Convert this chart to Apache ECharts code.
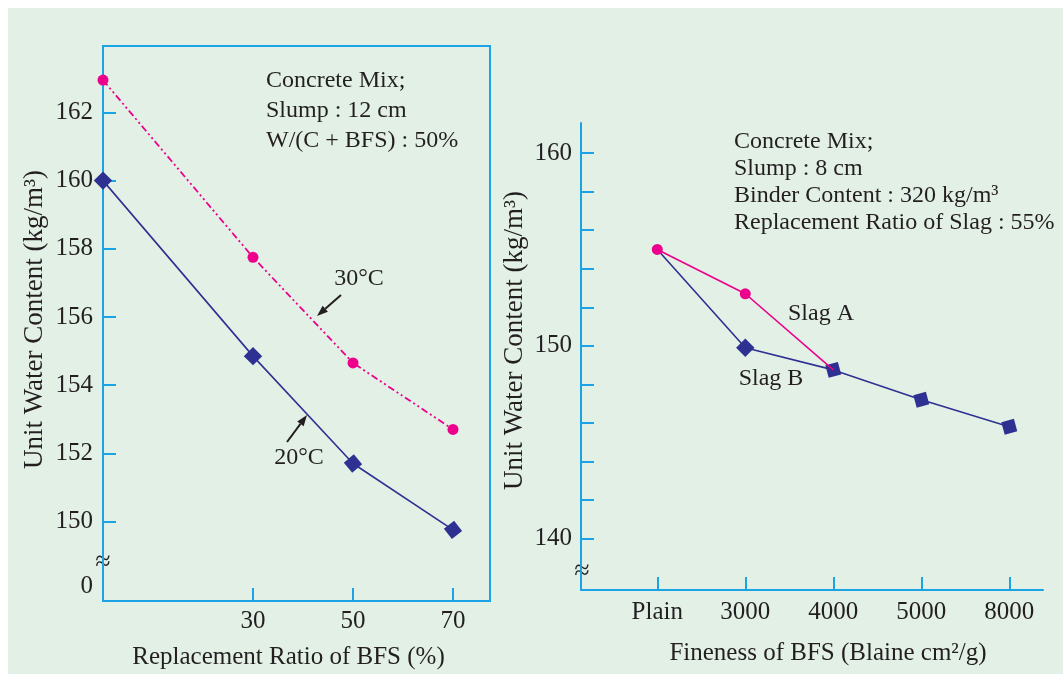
<!DOCTYPE html>
<html>
<head>
<meta charset="utf-8">
<script src="https://cdn.jsdelivr.net/npm/echarts@6/dist/echarts.min.js"></script>
<style>
html, body { margin: 0; padding: 0; background: #fff; }
#chart {
  width: 1063px; height: 675px;
  background: linear-gradient(#e3f0e6, #e3f0e6) 8px 8px / 1055px 666px no-repeat, #fff;
}
</style>
</head>
<body>
<div id="chart"></div>
<script>
// left panel: replacement ratio of BFS
const bfsRatio = [0, 30, 50, 70]
const water20 = [160.0, 154.85, 151.7, 149.75]
const water30 = [162.95, 157.75, 154.65, 152.7]
const leftXTicks = [30, 50, 70]
const leftYTicks = [150, 152, 154, 156, 158, 160, 162]
const leftZeroAt = 148.1 // where the broken axis shows "0"

// right panel: fineness of BFS
const fineness = ['Plain', '3000', '4000', '5000', '8000']
const slagA = [155.0, 152.7, 148.75]
const slagB = [155.0, 149.9, 148.75, 147.2, 145.8]
const rightYTicks = [140, 142, 144, 146, 148, 150, 152, 154, 156, 158, 160]
const rightYLabels = [140, 150, 160]

const CYAN = '#1ba3e6'
const PINK = '#ec008c'
const NAVY = '#2e3192'
const INK = '#231f20'
const FONT = 'Liberation Serif'

const chart = echarts.init(document.getElementById('chart'))

function arrow(t, h) {
  const dx = h[0] - t[0], dy = h[1] - t[1]
  const len = Math.sqrt(dx * dx + dy * dy)
  const ux = dx / len, uy = dy / len
  const bx = h[0] - ux * 11, by = h[1] - uy * 11
  const nx = -uy * 4, ny = ux * 4
  return [{
    type: 'line',
    shape: { x1: t[0], y1: t[1], x2: bx, y2: by },
    style: { stroke: INK, lineWidth: 2 }
  }, {
    type: 'polygon',
    shape: { points: [h, [bx + nx, by + ny], [bx - nx, by - ny]] },
    style: { fill: INK }
  }]
}

function label(text, x, y, extra) {
  return {
    type: 'text', x: x, y: y,
    style: Object.assign({
      text: text, fill: INK, font: '24px "' + FONT + '"',
      textAlign: 'center', textVerticalAlign: 'middle'
    }, extra || {})
  }
}

const axisText = { color: INK, fontFamily: FONT, fontSize: 25 }
const cyanLine = { onZero: false, lineStyle: { color: CYAN, width: 2 } }

chart.setOption({
  backgroundColor: 'transparent',
  animation: false,
  grid: [
    { left: 103, top: 46, width: 387, height: 556, show: true, borderColor: CYAN, borderWidth: 2, backgroundColor: 'transparent' },
    { left: 581, top: 123, width: 462, height: 467 }
  ],
  xAxis: [{
    gridIndex: 0, type: 'value', min: 0, max: 77.4,
    splitLine: { show: false },
    axisLine: cyanLine,
    axisTick: { customValues: leftXTicks, inside: true, length: 13, lineStyle: { color: CYAN, width: 2 } },
    axisLabel: Object.assign({ customValues: leftXTicks, margin: 8 }, axisText),
    name: 'Replacement Ratio of BFS (%)', nameLocation: 'middle', nameGap: 44,
    nameTextStyle: { color: INK, fontFamily: FONT, fontSize: 25, padding: [0, 16, 0, 0] }
  }, {
    gridIndex: 1, type: 'value', min: -0.867, max: 4.383,
    splitLine: { show: false },
    axisLine: cyanLine,
    axisTick: { customValues: [0, 1, 2, 3, 4], inside: true, length: 13, lineStyle: { color: CYAN, width: 2 } },
    axisLabel: Object.assign({ customValues: [0, 1, 2, 3, 4], margin: 10, formatter: v => fineness[Math.round(v)] }, axisText),
    name: 'Fineness of BFS (Blaine cm²/g)', nameLocation: 'middle', nameGap: 51,
    nameTextStyle: { color: INK, fontFamily: FONT, fontSize: 25, padding: [0, 0, 0, 32] }
  }],
  yAxis: [{
    gridIndex: 0, type: 'value', min: 147.665, max: 163.95,
    splitLine: { show: false },
    axisLine: cyanLine,
    axisTick: { customValues: leftYTicks, inside: true, length: 13, lineStyle: { color: CYAN, width: 2 } },
    axisLabel: Object.assign({ customValues: [leftZeroAt].concat(leftYTicks), margin: 10, formatter: v => v < 149 ? '0' : String(v) }, axisText),
    name: 'Unit Water Content (kg/m³)', nameLocation: 'middle', nameGap: 55,
    nameTextStyle: { color: INK, fontFamily: FONT, fontSize: 27, padding: [0, 0, 0, 8] }
  }, {
    gridIndex: 1, type: 'value', min: 137.33, max: 161.56,
    splitLine: { show: false },
    axisLine: Object.assign({ show: true }, cyanLine),
    axisTick: { customValues: rightYTicks, inside: true, length: 13, lineStyle: { color: CYAN, width: 2 } },
    axisLabel: Object.assign({ customValues: rightYLabels, margin: 9 }, axisText),
    name: 'Unit Water Content (kg/m³)', nameLocation: 'middle', nameGap: 53,
    nameTextStyle: { color: INK, fontFamily: FONT, fontSize: 27, padding: [0, 0, 0, 32] }
  }],
  series: [{
    name: '30°C', type: 'line', xAxisIndex: 0, yAxisIndex: 0, z: 3,
    data: bfsRatio.map((x, i) => [x, water30[i]]),
    symbol: 'circle', symbolSize: 11,
    itemStyle: { color: PINK },
    lineStyle: { color: PINK, width: 1.8, type: [7, 3, 2, 3, 2, 3] }
  }, {
    name: '20°C', type: 'line', xAxisIndex: 0, yAxisIndex: 0, z: 4,
    data: bfsRatio.map((x, i) => ({ value: [x, water20[i]], symbolRotate: [45, 45, 40, 38][i] })),
    symbol: 'rect', symbolSize: 13,
    itemStyle: { color: NAVY },
    lineStyle: { color: NAVY, width: 1.6 }
  }, {
    name: 'Slag B', type: 'line', xAxisIndex: 1, yAxisIndex: 1, z: 3,
    data: slagB.map((y, i) => ({ value: [i, y], symbol: i === 0 ? 'none' : 'rect', symbolRotate: [0, 45, 15, 15, 15][i] })),
    symbolSize: 13,
    itemStyle: { color: NAVY },
    lineStyle: { color: NAVY, width: 1.6 }
  }, {
    name: 'Slag A', type: 'line', xAxisIndex: 1, yAxisIndex: 1, z: 4,
    data: slagA.map((y, i) => ({ value: [i, y], symbol: i === 2 ? 'none' : 'circle' })),
    symbolSize: 11,
    itemStyle: { color: PINK },
    lineStyle: { color: PINK, width: 1.6 }
  }],
  graphic: [
    {
      type: 'text', left: 266, top: 66,
      style: { text: 'Concrete Mix;\nSlump : 12 cm\nW/(C + BFS) : 50%', fill: INK, font: '24px "' + FONT + '"', lineHeight: 30 }
    },
    {
      type: 'text', left: 734, top: 128,
      style: { text: 'Concrete Mix;\nSlump : 8 cm\nBinder Content : 320 kg/m³\nReplacement Ratio of Slag : 55%', fill: INK, font: '24px "' + FONT + '"', lineHeight: 27 }
    },
    label('30°C', 359, 279),
    label('20°C', 299, 458),
    label('Slag A', 821, 314),
    label('Slag B', 771, 379),
    label('≈', 103, 563, { font: '28px "' + FONT + '"' }),
    label('≈', 582, 572, { font: '28px "' + FONT + '"' })
  ].concat(arrow([341, 295], [317, 316]), arrow([287, 442], [307, 415]))
})
</script>
</body>
</html>
